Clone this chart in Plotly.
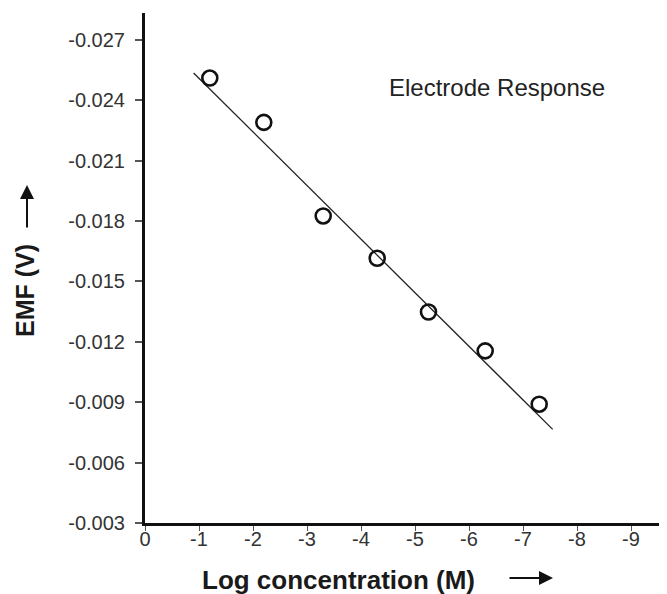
import plotly.graph_objects as go

# Data
log_conc = [-1.2, -2.2, -3.3, -4.3, -5.25, -6.3, -7.3]
emf = [-0.0251, -0.0229, -0.01825, -0.01615, -0.01348, -0.01155, -0.0089]
fit_x = [-0.9, -7.55]
fit_y = [-0.02535, -0.00765]

x_tickvals = [0, -1, -2, -3, -4, -5, -6, -7, -8, -9]
x_ticktext = ["0", "-1", "-2", "-3", "-4", "-5", "-6", "-7", "-8", "-9"]
y_tickvals = [-0.003, -0.006, -0.009, -0.012, -0.015, -0.018, -0.021, -0.024, -0.027]
y_ticktext = ["-0.003", "-0.006", "-0.009", "-0.012", "-0.015", "-0.018", "-0.021", "-0.024", "-0.027"]

OFF = 8  # page body margin offset
W, H = 667, 594
L, T = 145 - OFF, 13 - OFF
plot_right = 667 - OFF + 2
plot_bottom = 523 - OFF
R = W - plot_right
B = H - plot_bottom
pw, ph = W - L - R, H - T - B


def px(xp):
    return (xp - OFF - L) / pw


def py(yp):
    return (plot_bottom - (yp - OFF)) / ph


fig = go.Figure()
fig.add_trace(go.Scatter(x=fit_x, y=fit_y, mode="lines",
                         line=dict(color="#222222", width=1.3), showlegend=False))
fig.add_trace(go.Scatter(x=log_conc, y=emf, mode="markers",
                         marker=dict(symbol="circle-open", size=15, color="#111111",
                                     line=dict(width=2.6, color="#111111")),
                         showlegend=False))

tickfont = dict(family="Liberation Sans, Arial, sans-serif", size=20, color="#333333")
fig.update_xaxes(range=[0, -pw / 54.0], tickvals=x_tickvals, ticktext=x_ticktext,
                 showgrid=False, zeroline=False, showline=True, linecolor="#111111",
                 linewidth=3, ticks="outside", ticklen=5, tickwidth=1, tickcolor="#555555",
                 tickfont=tickfont, ticklabelstandoff=-9)
fig.update_yaxes(range=[-0.003, -0.003 - ph / 60.4 * 0.003], tickvals=y_tickvals,
                 ticktext=y_ticktext, showgrid=False, zeroline=False, showline=True,
                 linecolor="#111111", linewidth=3, ticks="outside", ticklen=7,
                 tickwidth=1.5, tickcolor="#555555", tickfont=tickfont,
                 ticklabelstandoff=6)

annotations = [
    dict(text="Electrode Response", x=px(497), y=py(87), xref="paper", yref="paper",
         xanchor="center", yanchor="middle", showarrow=False,
         font=dict(family="Liberation Sans, Arial, sans-serif", size=24, color="#222222")),
    dict(text="<b>Log concentration (M)</b>", x=px(338), y=py(580), xref="paper",
         yref="paper", xanchor="center", yanchor="middle", showarrow=False,
         font=dict(family="Liberation Sans, Arial, sans-serif", size=26, color="#1a1a1a")),
    dict(text="<b>EMF (V)</b>", x=px(25), y=py(291), xref="paper", yref="paper",
         xanchor="center", yanchor="middle", showarrow=False, textangle=-90,
         font=dict(family="Liberation Sans, Arial, sans-serif", size=25, color="#1a1a1a")),
    dict(text="", x=px(553), y=py(578), xref="paper", yref="paper", showarrow=True,
         ax=-45, ay=0, arrowhead=2, arrowsize=1.4, arrowwidth=2, arrowcolor="#111111"),
    dict(text="", x=px(27), y=py(185), xref="paper", yref="paper", showarrow=True,
         ax=0, ay=44, arrowhead=2, arrowsize=1.4, arrowwidth=2, arrowcolor="#111111"),
]

fig.update_layout(width=W, height=H, margin=dict(l=L, r=R, t=T, b=B),
                  paper_bgcolor="white", plot_bgcolor="white",
                  annotations=annotations)
fig.write_html("out.html")
